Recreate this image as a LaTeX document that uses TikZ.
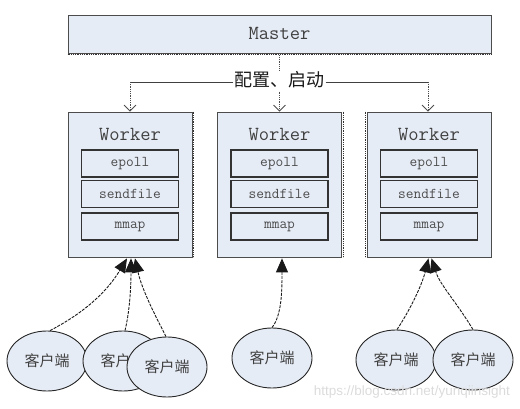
\documentclass[tikz,border=0pt]{standalone}
\usepackage{fontspec}
\newfontfamily\cjk{Noto Sans CJK SC}
\newfontfamily\wmfont{Liberation Sans}
\usetikzlibrary{arrows.meta,shapes.geometric,calc}
\definecolor{boxfill}{HTML}{E6ECF6}
\begin{document}
\begin{tikzpicture}[x=1pt,y=-1pt,
  box/.style={draw=black!70, fill=boxfill, line width=0.8pt, inner sep=0pt},
  title/.style={font=\ttfamily\fontsize{20}{22}\selectfont, text=black!75, inner sep=0pt},
  sub/.style={draw=black!80, fill=boxfill, line width=1.2pt, minimum width=97pt, minimum height=27pt,
              font=\ttfamily\fontsize{15}{16}\selectfont, text=black!70, inner sep=0pt},
  client/.style={ellipse, draw=black!85, fill=boxfill, line width=0.9pt, minimum width=80pt,
                 minimum height=60pt, inner sep=0pt, font=\cjk\fontsize{15}{16}\selectfont, text=black!75},
  link/.style={dash pattern=on 3pt off 1.2pt, line width=0.9pt, black!90,
               -{Triangle[length=14pt,width=12pt]}},
  cfg/.style={densely dotted, line width=0.8pt, black!70},
  cfgarrow/.style={cfg, -{Straight Barb[length=6pt,width=12pt]}},
  shadowline/.style={densely dotted, line width=0.8pt, black!80}
]
\useasboundingbox (0,0) rectangle (520,409);

% Master
\node[box, minimum width=423pt, minimum height=38pt] (M) at (279.5,34) {};
\node[title] (Mt) at (279.5,33) {Master};
\draw[shadowline] (M.south west) ++(0,1) -- ($(M.south east)+(0,1)$);

% Workers
\foreach \n/\x in {W1/130, W2/279.5, W3/429} {
  \node[box, minimum width=124pt, minimum height=145pt] (\n) at (\x,184.5) {};
  \node[title] (\n t) at (\x,134) {Worker};
  \node[sub] (\n e) at (\x,163.5) {epoll};
  \node[sub] (\n s) at (\x,194) {sendfile};
  \node[sub] (\n m) at (\x,226.5) {mmap};
}
\draw[shadowline] ($(W1.north east)+(1,0)$) -- ($(W1.south east)+(1,0)$);
\draw[shadowline] ($(W2.north east)+(1,0)$) -- ($(W2.south east)+(1,0)$);
\draw[shadowline] ($(W3.north west)+(-1,0)$) -- ($(W3.south west)+(-1,0)$);

% configuration label and connectors
\node[font=\cjk\fontsize{18}{20}\selectfont, text=black!90, inner sep=1pt] (L) at (279.5,80) {配置、启动};
\coordinate (cl) at (130,82);
\coordinate (cr) at (428,82);
\draw[cfg] (M.south) -- (L.north);
\draw[line width=0.8pt, black!75] (L.west |- cl) -- (cl);
\draw[line width=0.8pt, black!75] (L.east |- cr) -- (cr);
\draw[cfgarrow] (cl) -- (W1.north);
\draw[cfgarrow] (cr) -- ($(W3.north)+(-1,0)$);
\draw[cfgarrow] ($(L.south)+(0,2)$) -- (W2.north);

% Clients
\node[client] (c1) at (47,361) {客户端};
\node[client] (c2) at (123,361) {客户端};
\node[client] (c3) at (167,367) {客户端};
\node[client] (c4) at (272,358) {客户端};
\node[client] (c5) at (396,360) {客户端};
\node[client] (c6) at (473,360) {客户端};

% Client links
\draw[link] ($(c1.north)+(3,0)$) .. controls (80,315) and (105,295) .. ($(W1.south)+(-3,1)$);
\draw[link] ($(c2.north)+(2,0)$) .. controls (130,310) and (131,285) .. ($(W1.south)+(1,1)$);
\draw[link] ($(c3.north)+(-1,0)$) .. controls (155,315) and (142,290) .. ($(W1.south)+(5,1)$);
\draw[link] (c4.north) .. controls (282,315) and (282,290) .. ($(W2.south)+(2.5,1)$);
\draw[link] ($(c5.north)+(1,0)$) .. controls (410,310) and (422,285) .. ($(W3.south)+(-0.5,1)$);
\draw[link] (c6.north) .. controls (455,300) and (440,285) .. ($(W3.south)+(2.5,1)$);

% watermark
\node[font=\wmfont\fontsize{13.5}{14}\selectfont, text=black!14, anchor=east, inner sep=0pt] (wm) at (510,392) {https://blog.csdn.net/yunqiinsight};
\end{tikzpicture}
\end{document}
